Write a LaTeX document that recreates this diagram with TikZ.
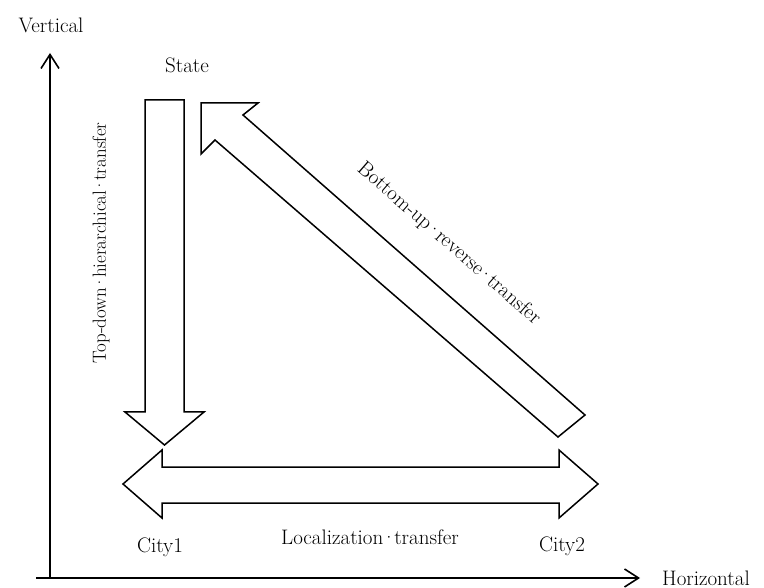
\documentclass[tikz,border=0pt]{standalone}
\usetikzlibrary{arrows.meta}
\newcommand\mdot{\kern-0.1em·\kern-0.1em}
\begin{document}
\begin{tikzpicture}[x=1pt,y=-1pt,
  lbl/.style={font=\fontsize{21}{23}\selectfont, inner sep=0pt, text=black},
  bigarrow/.style={draw=black, line width=1.5pt, line join=miter, fill=white},
  axis/.style={draw=black, line width=1.6pt, -{Straight Barb[length=14pt,width=18pt,line width=1.6pt]}}]
\useasboundingbox (0,0) rectangle (764,588);
% axes
\coordinate (origin) at (50,578);
\coordinate (hstart) at (36,578);
\coordinate (vtop) at (50,53);
\coordinate (hend) at (640,578);
\draw[axis] (origin) -- (vtop);
\draw[axis] (hstart) -- (hend);
\node[lbl] (vlab) at (51,25) {Vertical};
\node[lbl, anchor=west] (hlab) at (662,578) {Horizontal};
% down arrow (State -> City1)
\draw[bigarrow] (145,100) -- (184,100) -- (184,412) -- (204,412) -- (164.5,445)
  -- (125,412) -- (145,412) -- cycle;
% double horizontal arrow
\draw[bigarrow] (123,484) -- (162,450) -- (162,467) -- (559,467) -- (559,450)
  -- (598,484) -- (559,518) -- (559,503) -- (162,503) -- (162,518) -- cycle;
% diagonal arrow (City2 -> State)
\draw[bigarrow] (201,103) -- (258,103) -- (243,115) -- (585,415) -- (558,437)
  -- (215,140) -- (201,154) -- cycle;
% labels
\node[lbl] (state) at (187,65) {State};
\node[lbl] (city1) at (160,547) {City1};
\node[lbl] (city2) at (562,546) {City2};
\node[lbl] (loc) at (370,537) {Localization\mdot transfer};
\node[lbl, font=\fontsize{19}{21}\selectfont, rotate=90] (topdown) at (101,243) {Top-down\mdot hierarchical\mdot transfer};
\node[lbl, rotate=-41] (bottomup) at (449,244) {Bottom-up\mdot reverse\mdot transfer};
\end{tikzpicture}
\end{document}
